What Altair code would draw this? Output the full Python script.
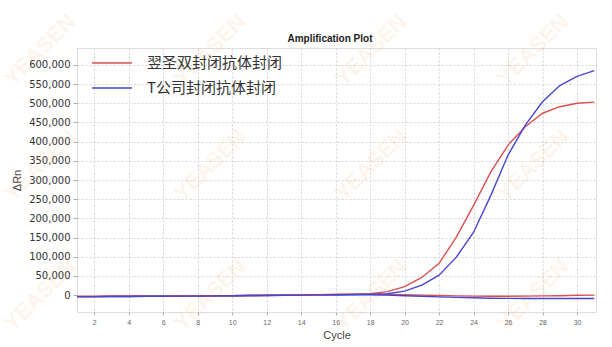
import altair as alt
import pandas as pd

cycles = list(range(1, 32))
red = [-3500, -3500, -3000, -3000, -2500, -2500, -2000, -2000, -1500, -1500, -1000, -500,
       0, 500, 1000, 1500, 2500, 4000, 9000, 22000, 46000, 83000, 151000, 234000,
       321000, 391000, 439000, 474000, 491000, 500000, 503000]
blue = [-4000, -4000, -3500, -3500, -3000, -3000, -2500, -2500, -2000, -1500, -1000, -1000,
        -500, 0, 500, 1000, 1500, 2500, 3500, 10500, 26000, 52000, 99000, 164000,
        260000, 365000, 443000, 504000, 546000, 570000, 585000]
base_red = [-3500, -3500, -3000, -3000, -2500, -2500, -2000, -2000, -1500, -1500, -1000, -500,
            0, 500, 1000, 1500, 2000, 2000, 1500, 1000, 0, -1000, -2000, -2500, -3000,
            -3000, -2500, -2000, -1500, -500, 0]
base_blue = [-4000, -4000, -3500, -3500, -3000, -3000, -2500, -2500, -2000, -1500, -1000, -1000,
             -500, 0, 500, 1000, 1000, 500, 0, -1500, -3000, -4500, -6000, -7000, -8000,
             -8500, -9000, -9000, -9000, -9000, -9000]

series_names = ["翌圣双封闭抗体封闭", "T公司封闭抗体封闭"]
colors = ["#dc5050", "#4646d2"]
chart_title = "Amplification Plot"

rows = []
for c, r, b, br, bb in zip(cycles, red, blue, base_red, base_blue):
    rows.append({"Cycle": c, "dRn": br, "series": series_names[0], "well": "r2"})
    rows.append({"Cycle": c, "dRn": bb, "series": series_names[1], "well": "b2"})
    rows.append({"Cycle": c, "dRn": r, "series": series_names[0], "well": "r1"})
    rows.append({"Cycle": c, "dRn": b, "series": series_names[1], "well": "b1"})
df = pd.DataFrame(rows)

# watermark placement (decoration), pixels relative to plot origin
wm_x = [-37, 133, 294, 456] * 3
wm_y = [2] * 4 + [117] * 4 + [247] * 4
wm = pd.DataFrame({"x": wm_x, "y": wm_y})

x_ticks = list(range(2, 31, 2))
y_ticks = list(range(0, 600001, 50000))

lines = alt.Chart(df).mark_line(strokeWidth=1.4, clip=True).encode(
    x=alt.X("Cycle:Q", scale=alt.Scale(domain=[1, 31.1], nice=False, zero=False),
            axis=alt.Axis(values=x_ticks, title="Cycle", grid=True, gridDash=[2, 2],
                          gridColor="#d4d4d4", labelFontSize=7, labelColor="#666",
                          tickSize=3, tickColor="#aaa", domain=False, labelPadding=3,
                          titleFontSize=11, titleFont="Liberation Sans",
                          titleFontWeight="normal", titleColor="#444", titlePadding=4)),
    y=alt.Y("dRn:Q", scale=alt.Scale(domain=[-44000, 644000], nice=False, zero=False),
            axis=alt.Axis(values=y_ticks, format=",d", title="ΔRn", grid=True, gridDash=[2, 2],
                          gridColor="#d4d4d4", labelFontSize=10, labelColor="#333",
                          labelFont="DejaVu Sans",
                          tickSize=4, tickColor="#aaa", domain=False, labelPadding=3,
                          titleFontSize=11, titleFontWeight="normal", titleColor="#444",
                          titleFont="Liberation Sans", titlePadding=6)),
    color=alt.Color("series:N", scale=alt.Scale(domain=series_names, range=colors),
                    legend=alt.Legend(title=None, orient="none", legendX=24, legendY=4,
                                      symbolType="M-2,0H2", symbolSize=400,
                                      symbolStrokeWidth=1.6, labelFontSize=15,
                                      labelFont="Noto Sans CJK SC", labelColor="#333",
                                      labelOffset=24, rowPadding=6)),
    detail="well:N",
)

marks = alt.Chart(wm).mark_text(text="YEASEN", angle=315, fontSize=22, fontWeight="bold",
                                font="Liberation Sans", color="#f0a860", opacity=0.12).encode(
    x=alt.X("x:Q", scale=None), y=alt.Y("y:Q", scale=None)
)

title_mark = alt.Chart(pd.DataFrame({"t": [chart_title]})).mark_text(
    fontSize=10, fontWeight="bold", font="Liberation Sans", color="#222", baseline="middle"
).encode(text="t:N", x=alt.value(253), y=alt.value(-9))

chart = alt.layer(marks, lines, title_mark).properties(
    width=519, height=264,
    padding={"left": 77, "top": 48, "right": 16, "bottom": 35},
    autosize="none",
).configure_view(stroke="#b0b0b0", strokeWidth=1).configure(background="white")

chart.save("out.html", embed_options={"renderer": "svg", "actions": False})
